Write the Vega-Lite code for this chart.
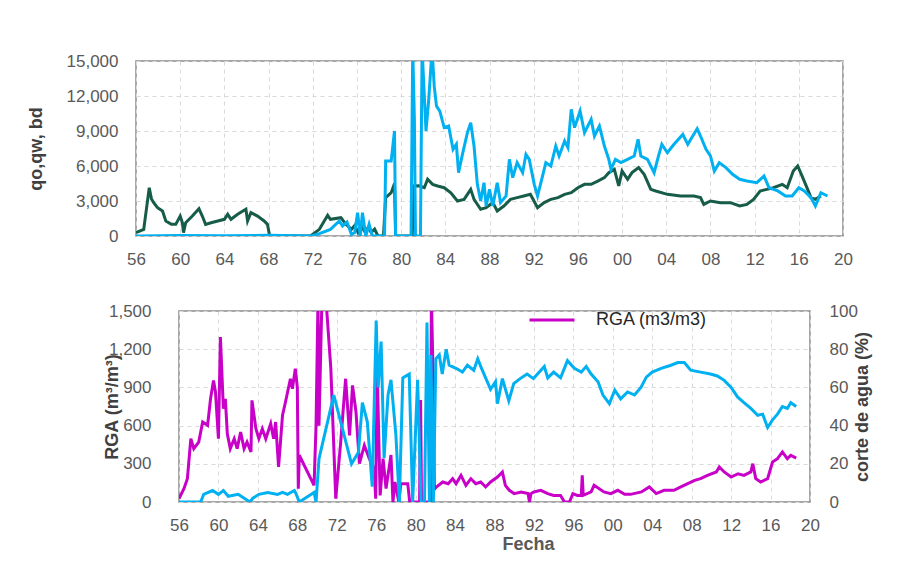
{
  "$schema": "https://vega.github.io/schema/vega-lite/v6.json",
  "padding": {"left": 0, "top": 51, "right": 0, "bottom": 0},
  "spacing": 33,
  "config": {
    "view": {"stroke": "#8c8c8c", "strokeWidth": 1.5},
    "axis": {
      "labelFont": "Liberation Sans", "titleFont": "Liberation Sans",
      "labelFontSize": 17, "labelColor": "#595959",
      "titleFontSize": 18, "titleColor": "#404040", "titleFontWeight": "bold",
      "ticks": false, "tickSize": 0, "domain": false, "labelFlush": false, "labelOverlap": false,
      "gridColor": "#d9d9d9", "gridDash": [4, 4], "gridWidth": 1
    },
    "concat": {"spacing": 0}
  },
  "datasets": {
    "qo": [
      {"year":1956.0,"value":300},{"year":1956.7,"value":570},{"year":1956.9,"value":2000},{"year":1957.2,"value":4140},{"year":1957.4,"value":3170},{"year":1957.6,"value":2860},{"year":1957.95,"value":2430},{"year":1958.4,"value":2140},{"year":1958.7,"value":1290},{"year":1959.2,"value":1000},{"year":1959.6,"value":1000},{"year":1960.0,"value":1710},{"year":1960.2,"value":1140},{"year":1960.3,"value":290},{"year":1960.5,"value":1140},{"year":1961.1,"value":1710},{"year":1961.7,"value":2340},{"year":1962.0,"value":1710},{"year":1962.3,"value":1000},{"year":1962.8,"value":1140},{"year":1963.4,"value":1290},{"year":1964.0,"value":1430},{"year":1964.3,"value":1860},{"year":1964.6,"value":1430},{"year":1965.2,"value":1860},{"year":1965.95,"value":2290},{"year":1966.1,"value":1290},{"year":1966.4,"value":2000},{"year":1967.0,"value":1710},{"year":1967.6,"value":1290},{"year":1967.9,"value":1000},{"year":1968.1,"value":0},{"year":1971.8,"value":0},{"year":1972.6,"value":570},{"year":1973.35,"value":1770},{"year":1973.6,"value":1430},{"year":1974.55,"value":1570},{"year":1975.0,"value":1000},{"year":1975.5,"value":570},{"year":1975.8,"value":900},{"year":1976.1,"value":300},{"year":1976.4,"value":800},{"year":1976.7,"value":400},{"year":1977.0,"value":700},{"year":1977.3,"value":300},{"year":1977.6,"value":600},{"year":1977.9,"value":0},{"year":1978.4,"value":0},{"year":1978.6,"value":3290},{"year":1979.1,"value":3710},{"year":1979.4,"value":4500},{"year":1979.5,"value":0},{"year":1981.0,"value":0},{"year":1981.2,"value":4290},{"year":1981.6,"value":4300},{"year":1982.1,"value":4140},{"year":1982.4,"value":4860},{"year":1982.85,"value":4430},{"year":1983.3,"value":4290},{"year":1983.9,"value":4140},{"year":1984.5,"value":3710},{"year":1985.1,"value":3000},{"year":1985.7,"value":3140},{"year":1986.3,"value":4000},{"year":1986.6,"value":3140},{"year":1987.2,"value":2290},{"year":1987.7,"value":2430},{"year":1988.3,"value":2860},{"year":1988.7,"value":2140},{"year":1989.3,"value":2570},{"year":1989.9,"value":3140},{"year":1990.5,"value":3290},{"year":1991.1,"value":3430},{"year":1991.7,"value":3570},{"year":1992.35,"value":2430},{"year":1992.95,"value":2860},{"year":1993.55,"value":3140},{"year":1994.2,"value":3290},{"year":1994.8,"value":3570},{"year":1995.4,"value":3710},{"year":1996.0,"value":4140},{"year":1996.6,"value":4430},{"year":1997.2,"value":4430},{"year":1997.8,"value":4710},{"year":1998.4,"value":5000},{"year":1998.8,"value":5430},{"year":1999.3,"value":5710},{"year":1999.7,"value":4290},{"year":2000.0,"value":5570},{"year":2000.5,"value":4860},{"year":2000.9,"value":5430},{"year":2001.5,"value":5860},{"year":2002.0,"value":5290},{"year":2002.6,"value":4000},{"year":2003.05,"value":3860},{"year":2004.1,"value":3570},{"year":2005.3,"value":3430},{"year":2006.5,"value":3430},{"year":2007.1,"value":3290},{"year":2007.4,"value":2710},{"year":2008.0,"value":3000},{"year":2008.9,"value":2860},{"year":2009.8,"value":2860},{"year":2010.65,"value":2570},{"year":2011.3,"value":2710},{"year":2011.9,"value":3140},{"year":2012.5,"value":3860},{"year":2013.1,"value":4000},{"year":2013.7,"value":4140},{"year":2014.5,"value":4430},{"year":2014.95,"value":4140},{"year":2015.5,"value":5570},{"year":2015.9,"value":6000},{"year":2016.3,"value":5140},{"year":2016.8,"value":4000},{"year":2017.1,"value":3290},{"year":2017.5,"value":3140},{"year":2018.0,"value":3430}
    ],
    "qw": [
      {"year":1956.0,"value":0},{"year":1960.0,"value":50},{"year":1964.0,"value":30},{"year":1968.0,"value":60},{"year":1971.9,"value":0},{"year":1972.6,"value":200},{"year":1973.6,"value":570},{"year":1974.4,"value":1290},{"year":1974.7,"value":860},{"year":1975.1,"value":1200},{"year":1975.5,"value":140},{"year":1975.8,"value":300},{"year":1976.06,"value":2000},{"year":1976.3,"value":0},{"year":1976.5,"value":2000},{"year":1976.8,"value":0},{"year":1977.1,"value":1000},{"year":1977.4,"value":0},{"year":1978.5,"value":0},{"year":1978.6,"value":6430},{"year":1979.1,"value":6430},{"year":1979.4,"value":9000},{"year":1979.5,"value":0},{"year":1980.9,"value":0},{"year":1981.05,"value":16000},{"year":1981.2,"value":10000},{"year":1981.3,"value":0},{"year":1981.75,"value":0},{"year":1981.9,"value":16000},{"year":1982.1,"value":12000},{"year":1982.25,"value":9000},{"year":1982.5,"value":11700},{"year":1982.8,"value":16000},{"year":1983.0,"value":12800},{"year":1983.2,"value":11140},{"year":1983.5,"value":10700},{"year":1983.9,"value":9290},{"year":1984.3,"value":9430},{"year":1984.7,"value":7430},{"year":1985.0,"value":7860},{"year":1985.2,"value":5430},{"year":1985.55,"value":7000},{"year":1986.0,"value":8860},{"year":1986.3,"value":9710},{"year":1986.6,"value":7710},{"year":1986.9,"value":4430},{"year":1987.2,"value":3000},{"year":1987.5,"value":4570},{"year":1987.7,"value":2570},{"year":1988.0,"value":4000},{"year":1988.3,"value":2570},{"year":1988.7,"value":4570},{"year":1989.0,"value":2860},{"year":1989.5,"value":3430},{"year":1989.8,"value":6570},{"year":1990.1,"value":5000},{"year":1990.5,"value":6290},{"year":1991.0,"value":5430},{"year":1991.3,"value":7000},{"year":1991.6,"value":6570},{"year":1992.05,"value":4430},{"year":1992.35,"value":3430},{"year":1992.8,"value":5140},{"year":1993.1,"value":6290},{"year":1993.55,"value":6000},{"year":1994.0,"value":7710},{"year":1994.3,"value":6860},{"year":1994.8,"value":8140},{"year":1995.1,"value":7570},{"year":1995.4,"value":10860},{"year":1995.7,"value":9290},{"year":1996.2,"value":10710},{"year":1996.6,"value":8860},{"year":1997.2,"value":10000},{"year":1997.5,"value":8570},{"year":1997.95,"value":9430},{"year":1998.4,"value":7710},{"year":1998.8,"value":6570},{"year":1999.0,"value":5710},{"year":1999.4,"value":6570},{"year":1999.9,"value":6290},{"year":2000.5,"value":6570},{"year":2001.1,"value":6860},{"year":2001.45,"value":8290},{"year":2001.7,"value":6860},{"year":2002.3,"value":6570},{"year":2002.9,"value":5430},{"year":2003.3,"value":6860},{"year":2003.6,"value":7860},{"year":2004.1,"value":7140},{"year":2004.7,"value":7860},{"year":2005.5,"value":8710},{"year":2005.95,"value":7860},{"year":2006.4,"value":8570},{"year":2006.8,"value":9200},{"year":2007.1,"value":8570},{"year":2007.6,"value":7430},{"year":2008.0,"value":6860},{"year":2008.35,"value":5570},{"year":2008.8,"value":6290},{"year":2009.4,"value":5860},{"year":2010.0,"value":5290},{"year":2010.65,"value":4860},{"year":2011.3,"value":4710},{"year":2012.2,"value":4570},{"year":2012.85,"value":5140},{"year":2013.3,"value":4140},{"year":2014.1,"value":3860},{"year":2014.8,"value":3430},{"year":2015.4,"value":3430},{"year":2016.0,"value":4140},{"year":2016.5,"value":3860},{"year":2017.1,"value":3290},{"year":2017.5,"value":2570},{"year":2018.0,"value":3710},{"year":2018.6,"value":3430}
    ],
    "rga": [
      {"year":1956.0,"value":26},{"year":1956.5,"value":105},{"year":1956.85,"value":183},{"year":1957.2,"value":497},{"year":1957.5,"value":419},{"year":1958.0,"value":471},{"year":1958.4,"value":628},{"year":1958.9,"value":602},{"year":1959.2,"value":811},{"year":1959.5,"value":955},{"year":1959.7,"value":864},{"year":1960.0,"value":497},{"year":1960.2,"value":1296},{"year":1960.5,"value":733},{"year":1960.7,"value":811},{"year":1960.9,"value":536},{"year":1961.2,"value":419},{"year":1961.6,"value":497},{"year":1961.9,"value":419},{"year":1962.25,"value":550},{"year":1962.6,"value":419},{"year":1962.9,"value":471},{"year":1963.3,"value":393},{"year":1963.4,"value":798},{"year":1963.8,"value":575},{"year":1964.1,"value":497},{"year":1964.45,"value":575},{"year":1964.8,"value":497},{"year":1965.3,"value":615},{"year":1965.6,"value":497},{"year":1965.8,"value":628},{"year":1966.1,"value":275},{"year":1966.5,"value":681},{"year":1966.8,"value":785},{"year":1967.3,"value":968},{"year":1967.5,"value":890},{"year":1967.8,"value":1047},{"year":1968.0,"value":900},{"year":1968.1,"value":105},{"year":1968.2,"value":367},{"year":1969.7,"value":131},{"year":1969.9,"value":600},{"year":1970.1,"value":1600},{"year":1970.2,"value":600},{"year":1970.5,"value":1600},{"year":1970.9,"value":1600},{"year":1971.4,"value":1047},{"year":1971.9,"value":26},{"year":1972.4,"value":471},{"year":1972.9,"value":968},{"year":1973.3,"value":523},{"year":1973.6,"value":916},{"year":1973.95,"value":707},{"year":1974.3,"value":301},{"year":1974.8,"value":445},{"year":1975.3,"value":340},{"year":1975.8,"value":262},{"year":1975.95,"value":26},{"year":1976.1,"value":1047},{"year":1976.4,"value":52},{"year":1976.7,"value":340},{"year":1977.0,"value":105},{"year":1977.5,"value":369},{"year":1977.7,"value":0},{"year":1977.9,"value":157},{"year":1978.3,"value":0},{"year":1978.5,"value":144},{"year":1979.2,"value":144},{"year":1979.4,"value":0},{"year":1980.4,"value":0},{"year":1980.5,"value":800},{"year":1980.6,"value":0},{"year":1981.5,"value":0},{"year":1981.6,"value":1600},{"year":1981.8,"value":900},{"year":1981.9,"value":100},{"year":1982.1,"value":118},{"year":1982.75,"value":157},{"year":1983.3,"value":144},{"year":1983.75,"value":183},{"year":1984.1,"value":144},{"year":1984.6,"value":209},{"year":1985.1,"value":131},{"year":1985.6,"value":183},{"year":1986.1,"value":144},{"year":1986.6,"value":157},{"year":1987.1,"value":118},{"year":1987.6,"value":157},{"year":1988.3,"value":196},{"year":1988.8,"value":236},{"year":1989.1,"value":131},{"year":1989.5,"value":92},{"year":1990.0,"value":66},{"year":1990.7,"value":79},{"year":1991.4,"value":66},{"year":1991.55,"value":0},{"year":1991.7,"value":66},{"year":1992.0,"value":79},{"year":1992.7,"value":92},{"year":1993.4,"value":66},{"year":1994.0,"value":52},{"year":1994.7,"value":52},{"year":1995.1,"value":0},{"year":1995.6,"value":0},{"year":1995.95,"value":66},{"year":1996.4,"value":52},{"year":1996.8,"value":52},{"year":1996.9,"value":209},{"year":1997.0,"value":52},{"year":1997.8,"value":79},{"year":1998.1,"value":131},{"year":1999.1,"value":79},{"year":1999.8,"value":66},{"year":2000.5,"value":92},{"year":2001.2,"value":60},{"year":2001.8,"value":60},{"year":2002.9,"value":79},{"year":2003.7,"value":118},{"year":2004.4,"value":66},{"year":2005.2,"value":92},{"year":2006.2,"value":92},{"year":2006.9,"value":118},{"year":2007.6,"value":144},{"year":2008.3,"value":170},{"year":2008.9,"value":183},{"year":2009.6,"value":209},{"year":2010.5,"value":236},{"year":2010.8,"value":275},{"year":2011.3,"value":236},{"year":2012.0,"value":196},{"year":2012.7,"value":222},{"year":2013.3,"value":209},{"year":2014.0,"value":236},{"year":2014.2,"value":301},{"year":2014.5,"value":183},{"year":2015.0,"value":157},{"year":2015.7,"value":183},{"year":2016.2,"value":314},{"year":2016.7,"value":340},{"year":2017.2,"value":393},{"year":2017.7,"value":340},{"year":2018.05,"value":367},{"year":2018.6,"value":345}
    ],
    "corte": [
      {"year":1956.0,"value":0},{"year":1958.2,"value":0},{"year":1958.5,"value":4},{"year":1959.4,"value":6},{"year":1960.0,"value":4},{"year":1960.5,"value":6},{"year":1961.0,"value":3},{"year":1962.0,"value":4},{"year":1963.2,"value":0},{"year":1963.5,"value":2},{"year":1964.1,"value":4},{"year":1965.0,"value":5},{"year":1966.0,"value":4},{"year":1966.5,"value":5},{"year":1967.0,"value":4},{"year":1967.7,"value":6},{"year":1967.9,"value":4},{"year":1968.2,"value":0},{"year":1969.7,"value":5},{"year":1969.9,"value":0},{"year":1970.2,"value":22.7},{"year":1971.7,"value":56},{"year":1973.5,"value":20},{"year":1974.2,"value":26},{"year":1974.6,"value":52},{"year":1975.1,"value":42},{"year":1975.6,"value":8},{"year":1976.0,"value":95},{"year":1976.2,"value":60},{"year":1976.5,"value":84},{"year":1976.8,"value":23},{"year":1977.2,"value":56},{"year":1977.5,"value":64},{"year":1978.0,"value":35},{"year":1978.35,"value":0},{"year":1978.7,"value":65},{"year":1979.35,"value":67},{"year":1979.7,"value":0},{"year":1980.2,"value":64},{"year":1980.55,"value":0},{"year":1980.9,"value":0},{"year":1981.15,"value":94},{"year":1981.4,"value":0},{"year":1981.55,"value":77},{"year":1981.8,"value":0},{"year":1982.05,"value":75},{"year":1982.4,"value":77},{"year":1982.7,"value":67},{"year":1983.1,"value":80},{"year":1983.4,"value":71.6},{"year":1984.1,"value":70},{"year":1984.75,"value":68},{"year":1985.25,"value":71.6},{"year":1985.9,"value":69},{"year":1986.3,"value":75},{"year":1986.6,"value":71},{"year":1987.1,"value":65},{"year":1987.6,"value":59},{"year":1988.1,"value":63},{"year":1988.3,"value":51.5},{"year":1988.8,"value":64.6},{"year":1989.45,"value":53},{"year":1989.95,"value":62},{"year":1990.6,"value":64.6},{"year":1991.3,"value":67},{"year":1991.95,"value":64.6},{"year":1993.05,"value":71},{"year":1993.4,"value":65},{"year":1994.0,"value":68},{"year":1994.7,"value":65},{"year":1995.4,"value":74},{"year":1996.1,"value":70},{"year":1996.8,"value":68},{"year":1997.3,"value":71},{"year":1997.8,"value":67},{"year":1998.5,"value":63},{"year":1999.0,"value":56},{"year":1999.65,"value":51.5},{"year":2000.2,"value":58.5},{"year":2000.8,"value":54},{"year":2001.5,"value":57.6},{"year":2002.2,"value":56},{"year":2002.85,"value":60},{"year":2003.4,"value":65.4},{"year":2004.0,"value":68},{"year":2004.9,"value":70},{"year":2005.9,"value":71.6},{"year":2006.6,"value":73},{"year":2007.25,"value":73},{"year":2007.9,"value":69},{"year":2008.9,"value":68},{"year":2009.9,"value":67},{"year":2010.6,"value":66},{"year":2011.3,"value":63.7},{"year":2012.0,"value":60},{"year":2012.65,"value":55},{"year":2013.3,"value":52},{"year":2014.0,"value":49},{"year":2014.7,"value":45.4},{"year":2015.2,"value":46},{"year":2015.7,"value":39},{"year":2016.2,"value":43},{"year":2016.7,"value":46},{"year":2017.2,"value":50},{"year":2017.7,"value":49},{"year":2018.05,"value":52},{"year":2018.6,"value":50}
    ]
  },
  "vconcat": [
    {
      "spacing": 0,
      "hconcat": [
        {"width": 24, "height": 1, "data": {"values": []}, "mark": "point", "view": {"stroke": "transparent"}},
        {
          "width": 707, "height": 175,
          "layer": [
            {
              "data": {"name": "qo"},
              "mark": {"type": "line", "color": "#165c48", "strokeWidth": 3, "clip": true},
              "encoding": {
                "x": {"field": "year", "type": "quantitative",
                  "scale": {"domain": [1956, 2020], "nice": false, "zero": false},
                  "axis": {"values": [1956,1960,1964,1968,1972,1976,1980,1984,1988,1992,1996,2000,2004,2008,2012,2016,2020], "tickCount": 100,
                    "labelExpr": "slice(toString(datum.value), 2)", "title": null, "grid": true, "labelPadding": 15, "labelOverlap": false}},
                "y": {"field": "value", "type": "quantitative",
                  "scale": {"domain": [0, 15000], "nice": false},
                  "axis": {"values": [0,3000,6000,9000,12000,15000], "tickCount": 100, "format": ",.0f", "title": "qo,qw, bd",
                    "grid": true, "labelPadding": 18, "titleX": -100, "titleBaseline": "middle", "labelOverlap": false}}
              }
            },
            {
              "data": {"name": "qw"},
              "mark": {"type": "line", "color": "#00b0f0", "strokeWidth": 3, "clip": true},
              "encoding": {
                "x": {"field": "year", "type": "quantitative", "axis": {"tickCount": 100, "labelOverlap": false}},
                "y": {"field": "value", "type": "quantitative", "axis": {"tickCount": 100, "labelOverlap": false}}
              }
            }
          ]
        }
      ]
    },
    {
      "spacing": 0,
      "hconcat": [
        {"width": 100, "height": 1, "data": {"values": []}, "mark": "point", "view": {"stroke": "transparent"}},
        {
          "width": 631, "height": 191,
          "layer": [
            {
              "data": {"name": "rga"},
              "mark": {"type": "line", "strokeWidth": 3, "clip": true},
              "encoding": {
                "x": {"field": "year", "type": "quantitative",
                  "scale": {"domain": [1956, 2020], "nice": false, "zero": false},
                  "axis": {"values": [1956,1960,1964,1968,1972,1976,1980,1984,1988,1992,1996,2000,2004,2008,2012,2016,2020], "tickCount": 100,
                    "labelExpr": "slice(toString(datum.value), 2)", "title": "Fecha", "titleColor": "#595959",
                    "grid": true, "labelPadding": 15, "labelOverlap": false, "titleX": 349, "titleY": 33, "titleAlign": "center", "titleBaseline": "top"}},
                "y": {"field": "value", "type": "quantitative",
                  "scale": {"domain": [0, 1500], "nice": false},
                  "axis": {"orient": "left", "values": [0,300,600,900,1200,1500], "tickCount": 100, "format": ",.0f", "title": "RGA (m³/m³)",
                    "grid": true, "labelPadding": 28, "labelOverlap": false, "titleX": -67, "titleBaseline": "middle"}},
                "color": {"datum": "RGA (m3/m3)", "type": "nominal",
                  "scale": {"range": ["#c800c8"]},
                  "legend": {"orient": "none", "legendX": 527, "legendY": 235, "title": null, "padding": 0,
                    "symbolType": "stroke", "symbolSize": 2025, "symbolStrokeWidth": 3,
                    "labelFont": "Liberation Sans", "labelFontSize": 18, "labelColor": "#262626", "labelOffset": 20}}
              }
            },
            {
              "data": {"name": "corte"},
              "mark": {"type": "line", "color": "#00b0f0", "strokeWidth": 3, "clip": true},
              "encoding": {
                "x": {"field": "year", "type": "quantitative", "axis": {"tickCount": 100, "labelOverlap": false}},
                "y": {"field": "value", "type": "quantitative",
                  "scale": {"domain": [0, 100], "nice": false},
                  "axis": {"orient": "right", "values": [0,20,40,60,80,100], "tickCount": 100, "title": "corte de agua (%)",
                    "grid": false, "labelPadding": 19, "labelOverlap": false, "titleAngle": 270, "titlePadding": 14}}
              }
            }
          ],
          "resolve": {"scale": {"y": "independent"}}
        }
      ]
    }
  ]
}
